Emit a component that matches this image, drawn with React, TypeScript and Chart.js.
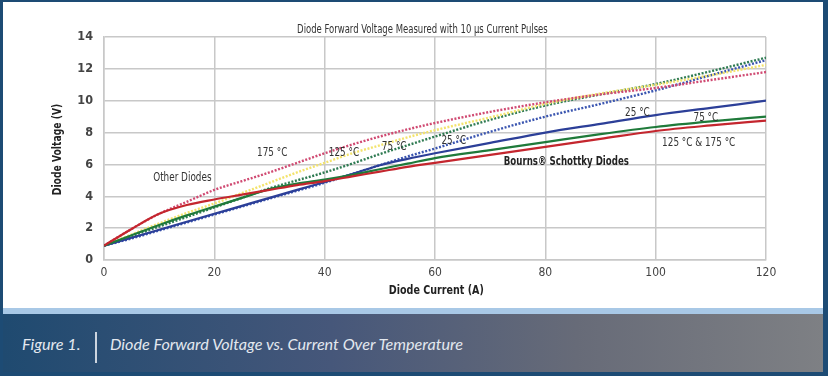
import React, { useEffect, useRef } from "react";
import { Chart, registerables } from "chart.js";

Chart.register(...registerables);

// ---- data ----
const current = [0, 5, 10, 15, 20, 25, 30, 35, 40, 45, 50, 55, 60, 70, 80, 90, 100, 110, 120];

const bournsBlue25 = [0.9, 1.4, 1.9, 2.4, 2.9, 3.4, 3.9, 4.4, 4.9, 5.4, 5.95, 6.35, 6.7, 7.35, 8.0, 8.55, 9.1, 9.55, 10.0];
const bournsGreen75 = [0.9, 1.55, 2.2, 2.8, 3.35, 3.9, 4.45, 4.8, 5.05, 5.35, 5.7, 6.05, 6.4, 6.9, 7.4, 7.9, 8.35, 8.7, 9.0];
const bournsRed175 = [0.9, 1.95, 2.9, 3.45, 3.8, 4.1, 4.4, 4.7, 4.95, 5.25, 5.55, 5.85, 6.1, 6.6, 7.1, 7.6, 8.1, 8.45, 8.75];

const otherPink175 = [0.9, 1.95, 2.9, 3.65, 4.4, 4.95, 5.5, 6.1, 6.7, 7.25, 7.75, 8.2, 8.6, 9.3, 9.9, 10.4, 10.8, 11.3, 11.8];
const otherYellow125 = [0.9, 1.6, 2.3, 2.95, 3.55, 4.2, 4.85, 5.5, 6.1, 6.7, 7.2, 7.7, 8.15, 8.95, 9.8, 10.45, 11.0, 11.6, 12.25];
const otherGreen75 = [0.9, 1.5, 2.1, 2.7, 3.3, 3.9, 4.5, 5.0, 5.5, 6.05, 6.65, 7.2, 7.75, 8.8, 9.7, 10.4, 11.05, 11.85, 12.7];
const otherBlue25 = [0.9, 1.35, 1.85, 2.35, 2.85, 3.35, 3.85, 4.35, 4.85, 5.4, 5.95, 6.5, 7.0, 8.05, 9.0, 9.8, 10.65, 11.6, 12.55];

const chartTitle = "Diode Forward Voltage Measured with 10 µs Current Pulses";
const xTitle = "Diode Current (A)";
const yTitle = "Diode Voltage (V)";
const figureLabel = "Figure 1.";
const figureCaption = "Diode Forward Voltage vs. Current Over Temperature";

// annotation labels in data coordinates [current, voltage]
const labelTexts = ["Other Diodes", "175 °C", "125 °C", "75 °C", "25 °C", "Bourns® Schottky Diodes", "25 °C", "75 °C", "125 °C & 175 °C"];
const labelCurrents = [14.2, 30.5, 43.5, 52.6, 63.4, 83.8, 96.7, 109.1, 107.8];
const labelVoltages = [5.14, 6.71, 6.71, 7.13, 7.45, 6.13, 9.23, 8.92, 7.34];
const labelBold = [false, false, false, false, false, true, false, false, false];

const NARROW = "'Liberation Sans Narrow', 'DejaVu Sans Condensed', 'Liberation Sans', sans-serif";

const toPoints = (ys: number[]) => current.map((x, i) => ({ x, y: ys[i] }));

function squeezedText(ctx: CanvasRenderingContext2D, t: string, x: number, y: number, sx: number, rot = 0) {
  ctx.save();
  ctx.translate(x, y);
  if (rot) ctx.rotate(rot);
  ctx.scale(sx, 1);
  ctx.fillText(t, 0, 0);
  ctx.restore();
}

const textPlugin = {
  id: "customTexts",
  afterDatasetsDraw(chart: any) {
    const ctx = chart.ctx as CanvasRenderingContext2D;
    const xs = chart.scales.x;
    const ys = chart.scales.y;
    const a = chart.chartArea;
    ctx.save();
    ctx.textAlign = "center";
    ctx.textBaseline = "middle";
    // annotations
    labelTexts.forEach((t, i) => {
      ctx.font = `${labelBold[i] ? "bold " : ""}12px ${NARROW}`;
      ctx.fillStyle = labelBold[i] ? "#222" : "#333";
      squeezedText(ctx, t, xs.getPixelForValue(labelCurrents[i]), ys.getPixelForValue(labelVoltages[i]), labelBold[i] ? 0.8 : 0.82);
    });
    // chart title
    ctx.font = `11.5px ${NARROW}`;
    ctx.fillStyle = "#333";
    squeezedText(ctx, chartTitle, a.left + (a.right - a.left) * 0.481, a.top - 7, 0.82);
    // axis titles
    ctx.font = `bold 12.5px ${NARROW}`;
    ctx.fillStyle = "#222";
    squeezedText(ctx, xTitle, a.left + (a.right - a.left) * 0.502, a.bottom + 31, 0.85);
    squeezedText(ctx, yTitle, a.left - 46, (a.top + a.bottom) / 2 + 1, 0.82, -Math.PI / 2);
    ctx.restore();
  },
};

export default function App() {
  const ref = useRef<HTMLCanvasElement>(null);

  useEffect(() => {
    document.body.style.margin = "0";
    const solid = (label: string, data: number[], color: string, order: number) => ({
      label,
      data: toPoints(data),
      borderColor: color,
      backgroundColor: color,
      borderWidth: 2.2,
      pointRadius: 0,
      cubicInterpolationMode: "monotone" as const,
      order,
    });
    const dotted = (label: string, data: number[], color: string, order: number) => ({
      ...solid(label, data, color, order),
      borderWidth: 2.4,
      borderDash: [2, 1.6],
    });
    const chart = new Chart(ref.current as HTMLCanvasElement, {
      type: "line",
      data: {
        datasets: [
          solid("Bourns 175 °C", bournsRed175, "#c4262e", 1),
          solid("Bourns 75 °C", bournsGreen75, "#1f7a3a", 2),
          solid("Bourns 25 °C", bournsBlue25, "#2c3f98", 3),
          dotted("Other 175 °C", otherPink175, "#d04a72", 4),
          dotted("Other 125 °C", otherYellow125, "#f3e36c", 5),
          dotted("Other 75 °C", otherGreen75, "#2f7b52", 6),
          dotted("Other 25 °C", otherBlue25, "#3a55b0", 7),
        ],
      },
      options: {
        responsive: false,
        animation: false,
        layout: { padding: { top: 37, right: 62, left: 0, bottom: 0 } },
        plugins: { legend: { display: false }, tooltip: { enabled: false }, title: { display: false } },
        scales: {
          x: {
            type: "linear",
            min: 0,
            max: 120,
            ticks: { stepSize: 20, padding: 6, color: "#444", font: { family: NARROW, size: 12 } },
            grid: { color: "#c8c8c8", lineWidth: 1.5, drawTicks: false },
            border: { display: true, color: "#c8c8c8", width: 1.5 },
            afterFit: (s: any) => {
              s.height = 48;
            },
          },
          y: {
            min: 0,
            max: 14,
            ticks: { stepSize: 2, padding: 11, color: "#444", font: { family: NARROW, size: 12.5, weight: "bold" } },
            grid: { color: "#c8c8c8", lineWidth: 1.5, drawTicks: false },
            border: { display: true, color: "#c8c8c8", width: 1.5 },
            afterFit: (s: any) => {
              s.width = 104;
            },
          },
        },
      },
      plugins: [textPlugin],
    });
    return () => chart.destroy();
  }, []);

  const captionStyle: React.CSSProperties = {
    position: "absolute",
    top: 334,
    fontFamily: "Lato, 'Open Sans', sans-serif",
    fontStyle: "italic",
    fontSize: 16.2,
    color: "#e3e8ef",
    lineHeight: "20px",
    whiteSpace: "nowrap",
  };

  return (
    <div style={{ position: "relative", width: 828, height: 376, background: "#1d4b74", overflow: "hidden" }}>
      <div style={{ position: "absolute", left: 3, top: 2, width: 820, height: 306, background: "#ffffff" }} />
      <div style={{ position: "absolute", left: 3, top: 308, width: 820, height: 6, background: "#a8c8e6" }} />
      <div
        style={{
          position: "absolute",
          left: 3,
          top: 314,
          width: 820,
          height: 58,
          background: "linear-gradient(90deg, #1f4a70 0%, #46577a 40%, #676b78 70%, #7e8084 100%)",
        }}
      />
      <canvas ref={ref} width={828} height={308} style={{ position: "absolute", left: 0, top: 0 }} />
      <div style={{ ...captionStyle, left: 22 }}>{figureLabel}</div>
      <div style={{ position: "absolute", left: 95, top: 332, width: 1.5, height: 31, background: "#cdd5df" }} />
      <div style={{ ...captionStyle, left: 110 }}>{figureCaption}</div>
    </div>
  );
}
